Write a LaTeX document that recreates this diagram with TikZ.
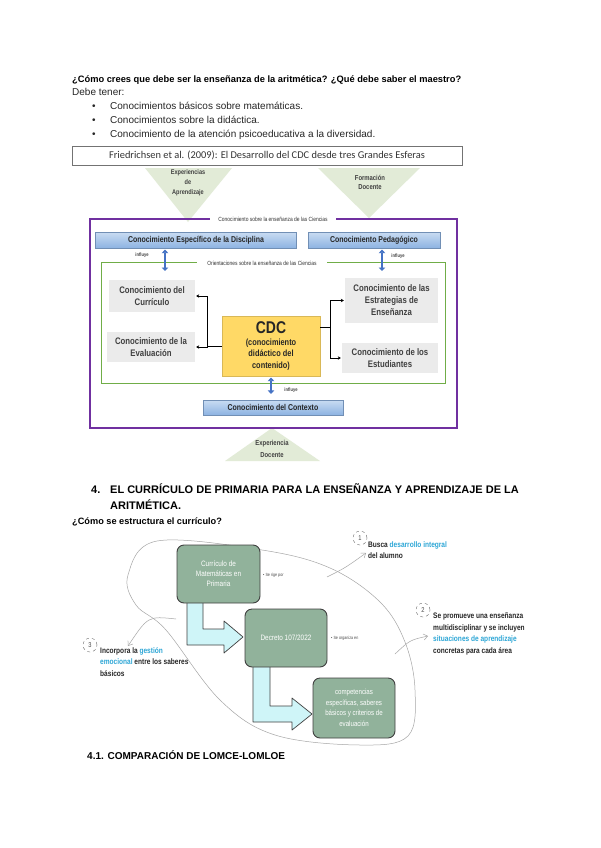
\documentclass[tikz,border=0pt]{standalone}
\usepackage{fontspec}
\setmainfont{Liberation Sans}
\newfontfamily\carlito{Carlito}
\newfontfamily\estrecha{Liberation Sans}[FakeStretch=0.82]
\usetikzlibrary{arrows.meta}

\definecolor{morado}{HTML}{7030A0}
\definecolor{verdemarco}{HTML}{70AD47}
\definecolor{trianguloverde}{HTML}{E2EBD7}
\definecolor{azularriba}{HTML}{C9DCF2}
\definecolor{azulabajo}{HTML}{8DB3E2}
\definecolor{azulflecha}{HTML}{4472C4}
\definecolor{grisbox}{HTML}{EBEBEB}
\definecolor{amarillo}{HTML}{FFD966}
\definecolor{salvia}{HTML}{91B29B}
\definecolor{celeste}{HTML}{CFF5F8}
\definecolor{resalte}{HTML}{2CA6D6}
\definecolor{textogris}{HTML}{404040}

\tikzset{
	texto/.style={anchor=base west, inner sep=0pt, font=\fontsize{10}{12}\selectfont, text=black!85},
	negrita/.style={texto, font=\bfseries\fontsize{9.3}{11}\selectfont, text=black},
	azulbox/.style={top color=azularriba, bottom color=azulabajo, draw=azulabajo!80!black, line width=0.3pt, inner sep=0pt, font=\estrecha\bfseries\fontsize{8.5}{10}\selectfont, text=black!85},
	grisnodo/.style={fill=grisbox, inner sep=0pt, align=center, font=\estrecha\bfseries\fontsize{9.5}{12}\selectfont, text=textogris},
	triangulo/.style={fill=trianguloverde},
	tritexto/.style={align=center, inner sep=0pt, font=\estrecha\bfseries\fontsize{6.8}{10}\selectfont, text=textogris},
	rotulo/.style={fill=white, inner sep=1.5pt, font=\estrecha\fontsize{6}{7}\selectfont, text=black!80},
	influye/.style={inner sep=0pt, font=\estrecha\bfseries\fontsize{5}{6}\selectfont, text=textogris},
	dobleflecha/.style={azulflecha, line width=2.2pt, {Triangle[width=6.5pt,length=3.5pt]}-{Triangle[width=6.5pt,length=3.5pt]}},
	conector/.style={black, line width=0.8pt, -{Stealth[length=3pt,width=3.5pt]}},
	verdebox/.style={fill=salvia, draw=black!75, line width=0.9pt, rounded corners=7pt, align=center, text=white, inner sep=0pt, font=\estrecha\fontsize{7.8}{10}\selectfont},
	bloque/.style={fill=celeste, draw=black!75, line width=0.7pt, line join=round},
	nota/.style={anchor=north west, inner sep=0pt, align=left, font=\estrecha\bfseries\fontsize{8}{11.5}\selectfont, text=black!85},
	numero/.style={circle, draw=black!60, dashed, line width=0.4pt, minimum size=14pt, inner sep=0pt, font=\estrecha\fontsize{7}{8}\selectfont, text=black!70},
	trazo/.style={black!35, line width=0.5pt},
	flechatrazo/.style={trazo, -{Straight Barb[length=4pt,width=6pt]}},
	pequena/.style={anchor=west, inner sep=0pt, font=\estrecha\fontsize{4.5}{5}\selectfont, text=black!70},
}

\begin{document}
\begin{tikzpicture}[x=1pt, y=-1pt]
		\path[use as bounding box, fill=white] (0,0) rectangle (600,848);

		\node[negrita] (pregunta) at (72,82.5) {¿Cómo crees que debe ser la enseñanza de la aritmética? ¿Qué debe saber el maestro?};
		\node[texto] (debe) at (72,95.5) {Debe tener:};
		\foreach \y/\elem [count=\i] in {109.5/{Conocimientos básicos sobre matemáticas.}, 123.5/{Conocimientos sobre la didáctica.}, 137.5/{Conocimiento de la atención psicoeducativa a la diversidad.}} {
			\node[texto] (vineta\i) at (92,\y) {\textbullet};
			\node[texto] (item\i) at (110,\y) {\elem};
		}

		\node[draw=black!55, line width=0.6pt, minimum width=390pt, minimum height=19pt, inner sep=0pt, font=\carlito\fontsize{10.4}{12}\selectfont, text=black!80] (titulo) at (267,155.5) {Friedrichsen et al. (2009): El Desarrollo del CDC desde tres Grandes Esferas};

		\fill[triangulo] (145,168) -- (232,168) -- (188,222) -- cycle;
		\node[tritexto] (expaprendizaje) at (188,183) {Experiencias\\de\\Aprendizaje};
		\fill[triangulo] (318,168) -- (420,168) -- (369,218) -- cycle;
		\node[tritexto, font=\estrecha\bfseries\fontsize{7.2}{9.5}\selectfont] (formacion) at (370,182.5) {Formación\\Docente};
		\fill[triangulo] (272,428) -- (320,461) -- (225,461) -- cycle;
		\node[tritexto, font=\estrecha\bfseries\fontsize{7.2}{11.5}\selectfont] (expdocente) at (272,449) {Experiencia\\Docente};

		\draw[morado, line width=1.6pt] (90,219) rectangle (457,428);
		\node[rotulo, inner xsep=8pt] (ensenanza) at (273,219) {Conocimiento sobre la enseñanza de las Ciencias};

		\node[azulbox, minimum width=201pt, minimum height=16pt] (disciplina) at (196,240) {Conocimiento Específico de la Disciplina};
		\node[azulbox, minimum width=132pt, minimum height=16pt] (pedagogico) at (374,240) {Conocimiento Pedagógico};

		\draw[verdemarco, line width=0.8pt] (101,262) rectangle (445,383);
		\node[rotulo, inner xsep=10pt] (orientaciones) at (262,263) {Orientaciones sobre la enseñanza de las Ciencias};

		\coordinate (infizq) at (165,271);
		\coordinate (infder) at (382,271);
		\draw[dobleflecha, shorten <=1.5pt] (disciplina.south -| infizq) -- (infizq);
		\draw[dobleflecha, shorten <=1.5pt] (pedagogico.south -| infder) -- (infder);
		\node[influye] (influye1) at (142,255) {influye};
		\node[influye] (influye2) at (398,256) {influye};

		\node[grisnodo, minimum width=86pt, minimum height=32pt] (curriculo) at (152,296) {Conocimiento del\\Currículo};
		\node[grisnodo, minimum width=88pt, minimum height=30pt] (evaluacion) at (151,347) {Conocimiento de la\\Evaluación};
		\node[grisnodo, minimum width=93pt, minimum height=45pt] (estrategias) at (391.5,300.5) {Conocimiento de las\\Estrategias de\\Enseñanza};
		\node[grisnodo, minimum width=96pt, minimum height=30pt] (estudiantes) at (390,358) {Conocimiento de los\\Estudiantes};

		\node[fill=amarillo, draw=amarillo!85!black, line width=0.3pt, minimum width=98pt, minimum height=60pt, align=center, inner sep=0pt, font=\estrecha\bfseries\fontsize{9}{11.5}\selectfont, text=black!85] (cdc) at (271,346) {{\fontsize{17}{17}\selectfont CDC}\\(conocimiento\\didáctico del\\contenido)};

		\coordinate (brazoizq) at (207,346);
		\coordinate (brazoder) at (330,327);
		\draw[conector, shorten >=1pt] (cdc.west) -- (brazoizq) |- (curriculo.east);
		\draw[conector, shorten >=1pt] (brazoizq) |- (evaluacion.east);
		\draw[line width=0.8pt] (cdc.east |- brazoder) -- (brazoder);
		\draw[conector, shorten >=1pt] (brazoder) |- (estrategias.west);
		\draw[conector, shorten >=1pt] (brazoder) |- (estudiantes.west);

		\node[azulbox, minimum width=140pt, minimum height=15pt] (contexto) at (273,407.5) {Conocimiento del Contexto};
		\draw[dobleflecha, shorten <=1.5pt, shorten >=6pt] (cdc.south) -- (cdc.south |- contexto.north);
		\node[influye] (influye3) at (291,390) {influye};

		\node[negrita, font=\bfseries\fontsize{11}{13}\selectfont] (num4) at (91,493.5) {4.};
		\node[negrita, font=\bfseries\fontsize{11}{13}\selectfont] (seccion) at (110,493.5) {EL CURRÍCULO DE PRIMARIA PARA LA ENSEÑANZA Y APRENDIZAJE DE LA};
		\node[negrita, font=\bfseries\fontsize{11}{13}\selectfont] (seccionb) at (110,509.5) {ARITMÉTICA.};
		\node[negrita, font=\bfseries\fontsize{9.2}{10}\selectfont] (estructura) at (72,524) {¿Cómo se estructura el currículo?};

		\draw[trazo] plot[smooth cycle, tension=0.6] coordinates {(157,541) (128,575) (136,605) (166,630) (220,700) (275,735) (360,745) (408,736) (415,690) (405,642) (380,602) (330,568) (262,550)};

		\draw[bloque] (187,600) -- (187,645) -- (224,645) -- (224,653) -- (243,637) -- (224,621) -- (224,629) -- (203,629) -- (203,600) -- cycle;
		\draw[bloque] (253,664) -- (253,722) -- (292,722) -- (292,730) -- (312,714) -- (292,698) -- (292,706) -- (270,706) -- (270,664) -- cycle;

		\node[verdebox, minimum width=83pt, minimum height=58pt] (curmat) at (218.5,574) {Currículo de\\Matemáticas en\\Primaria};
		\node[verdebox, minimum width=82pt, minimum height=58pt] (decreto) at (286,638) {Decreto 107/2022};
		\node[verdebox, minimum width=82pt, minimum height=60pt, font=\estrecha\fontsize{7.5}{10.5}\selectfont] (competencias) at (354,708) {competencias\\específicas, saberes\\básicos y criterios de\\evaluación};

		\node[pequena] (rige) at (263,575) {\textbullet\ Se rige por};
		\node[pequena] (organiza) at (331,638) {\textbullet\ Se organiza en};

		\node[numero] (uno) at (360,538) {1};
		\node[nota] (nota1) at (368,541) {Busca \textcolor{resalte}{desarrollo integral}\\del alumno};
		\node[numero] (dos) at (423,610) {2};
		\node[nota] (nota2) at (433,613) {Se promueve una enseñanza\\multidisciplinar y se incluyen\\\textcolor{resalte}{situaciones de aprendizaje}\\concretas para cada área};
		\node[numero] (tres) at (90,645) {3};
		\node[nota] (nota3) at (100,647) {Incorpora la \textcolor{resalte}{gestión}\\\textcolor{resalte}{emocional} entre los saberes\\básicos};

		\coordinate (sale1) at (327,577);
		\coordinate (llega1) at (366,553);
		\coordinate (sale2) at (395,654);
		\coordinate (llega2) at (428,636);
		\coordinate (sale3) at (176,619);
		\coordinate (llega3) at (128,646);
		\draw[flechatrazo] (sale1) .. controls (345,568) .. (llega1);
		\draw[flechatrazo] (sale2) .. controls (410,640) .. (llega2);
		\draw[flechatrazo] (sale3) .. controls (148,616) .. (llega3);

		\node[negrita, font=\bfseries\fontsize{10}{12}\selectfont] (comparacion) at (87,759) {4.1. COMPARACIÓN DE LOMCE-LOMLOE};
\end{tikzpicture}
\end{document}
